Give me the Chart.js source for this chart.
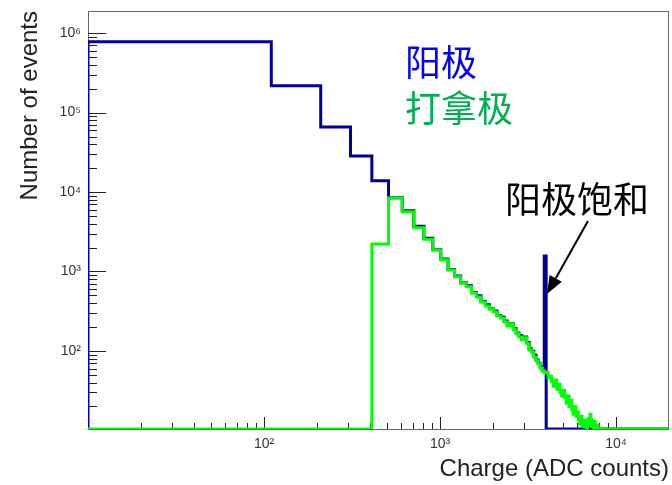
<!DOCTYPE html>
<html>
<head>
<meta charset="utf-8">
<script src="https://cdn.jsdelivr.net/npm/chart.js@4.4.0/dist/chart.umd.min.js"></script>
<style>
  html, body { margin: 0; padding: 0; background: #fff; }
  #wrap { width: 672px; height: 485px; }
</style>
</head>
<body>
<div id="wrap"><canvas id="chargeChart"></canvas></div>
<script>
// left edge of each 100-ADC bin
const binEdges = [
    10, 110, 210, 310, 410, 510, 610, 710, 810, 910,
    1010, 1110, 1210, 1310, 1410, 1510, 1610, 1710, 1810, 1910,
    2010, 2110, 2210, 2310, 2410, 2510, 2610, 2710, 2810, 2910,
    3010, 3110, 3210, 3310, 3410, 3510, 3610, 3710, 3810, 3910,
    4010, 4110, 4210, 4310, 4410, 4510, 4610, 4710, 4810, 4910,
    5010, 5110, 5210, 5310, 5410, 5510, 5610, 5710, 5810, 5910,
    6010, 6110, 6210, 6310, 6410, 6510, 6610, 6710, 6810, 6910,
    7010, 7110, 7210, 7310, 7410, 7510, 7610, 7710, 7810, 7910,
    8010
];

// 阳极 (anode)
const anodeCounts = [
    780000, 217000, 66000, 28400, 13900, 8500, 5800, 3700, 2620, 1880,
    1440, 1060, 880, 720, 660, 545, 495, 420, 380, 340,
    318, 280, 268, 238, 212, 222, 190, 168, 156, 140,
    150, 128, 106, 99, 88, 77, 70, 63, 58, 1570,
    0, 0, 0, 0, 0, 0, 0, 0, 0, 0,
    0, 0, 0, 0, 0, 0, 0, 0, 0, 0,
    0, 0, 0, 0, 0, 0, 0, 0, 0, 0,
    0, 0, 0, 0, 0, 0, 0, 0, 0, 0,
    0
];

// 打拿极 (dynode)
const dynodeCounts = [
    0, 0, 0, 0, 2220, 8400, 5650, 3560, 2540, 1860,
    1400, 1045, 855, 715, 640, 535, 478, 413, 368, 337,
    309, 276, 260, 232, 206, 219, 184, 164, 150, 138,
    146, 123, 103, 97, 84, 75, 69, 61, 56, 53,
    54, 46, 48, 41, 36, 43, 33, 38, 30, 27,
    32, 26, 22, 27, 20, 24, 18, 16, 20, 15,
    17, 13.5, 12, 15, 11.5, 13.5, 11, 13, 10.8, 14,
    12, 16, 13.5, 11.5, 0, 13, 11, 0, 11.5, 0,
    0
];

const xTickValues = [
    20, 30, 40, 50, 60, 70, 80, 90,
    100, 200, 300, 400, 500, 600, 700, 800, 900,
    1000, 2000, 3000, 4000, 5000, 6000, 7000, 8000, 9000,
    10000
];
const yTickValues = [
    20, 30, 40, 50, 60, 70, 80, 90,
    100, 200, 300, 400, 500, 600, 700, 800, 900,
    1000, 2000, 3000, 4000, 5000, 6000, 7000, 8000, 9000,
    10000, 20000, 30000, 40000, 50000, 60000, 70000, 80000, 90000,
    100000, 200000, 300000, 400000, 500000, 600000, 700000, 800000, 900000,
    1000000
];

const X_MIN = 10, X_MAX = 20000;
const Y_MIN = 10.4, Y_MAX = 1.9e6;
const arrowTip = [4050, 520];

const SUP = { 1: '¹', 2: '²', 3: '³', 4: '⁴', 5: '⁵', 6: '⁶' };

function isDecade(v) {
    const e = Math.log10(v);
    return Math.abs(e - Math.round(e)) < 1e-9;
}

function decadeLabel(v) {
    if (!isDecade(v)) return '';
    return '10' + SUP[Math.round(Math.log10(v))];
}

// histogram outline: empty bins sit on the bottom of the frame
function histPoints(counts) {
    const pts = [{ x: binEdges[0], y: Y_MIN }];
    counts.forEach((c, i) => pts.push({ x: binEdges[i], y: c > 0 ? c : Y_MIN }));
    pts.push({ x: X_MAX, y: Y_MIN });
    return pts;
}

// ROOT-like frame and inward tick marks
const framePlugin = {
    id: 'frameTicks',
    beforeDatasetsDraw(chart) {
        const { ctx, chartArea: a, scales: { x, y } } = chart;
        ctx.save();
        ctx.strokeStyle = '#666';
        ctx.lineWidth = 1;
        ctx.strokeRect(a.left + 0.5, a.top + 0.5, a.right - a.left - 1, a.bottom - a.top);
        ctx.strokeStyle = '#222';
        ctx.beginPath();
        xTickValues.forEach(v => {
            const px = Math.round(x.getPixelForValue(v)) + 0.5;
            const len = isDecade(v) ? 12 : 6;
            ctx.moveTo(px, a.bottom);
            ctx.lineTo(px, a.bottom - len);
        });
        yTickValues.forEach(v => {
            const py = Math.round(y.getPixelForValue(v)) + 0.5;
            const len = isDecade(v) ? 18 : 9;
            ctx.moveTo(a.left, py);
            ctx.lineTo(a.left + len, py);
        });
        ctx.stroke();
        ctx.restore();
    }
};

const notePlugin = {
    id: 'notes',
    afterDatasetsDraw(chart) {
        const { ctx, scales: { x, y } } = chart;
        ctx.save();
        ctx.font = '36px "Noto Sans CJK SC"';
        ctx.textBaseline = 'middle';
        ctx.textAlign = 'left';
        ctx.fillStyle = '#0000ff';
        ctx.fillText('阳极', 405, 62);
        ctx.fillStyle = '#00b050';
        ctx.fillText('打拿极', 405, 108);
        ctx.fillStyle = '#000';
        ctx.fillText('阳极饱和', 505, 199);

        // arrow to the saturated bin
        const tx = x.getPixelForValue(arrowTip[0]);
        const ty = y.getPixelForValue(arrowTip[1]);
        const sx = 588, sy = 221;
        const dx = tx - sx, dy = ty - sy;
        const d = Math.hypot(dx, dy);
        const ux = dx / d, uy = dy / d;
        const hl = 18, hw = 7;
        const bx = tx - ux * hl, by = ty - uy * hl;
        ctx.strokeStyle = '#000';
        ctx.lineWidth = 2;
        ctx.beginPath();
        ctx.moveTo(sx, sy);
        ctx.lineTo(bx, by);
        ctx.stroke();
        ctx.beginPath();
        ctx.moveTo(tx, ty);
        ctx.lineTo(bx - uy * hw, by + ux * hw);
        ctx.lineTo(bx + uy * hw, by - ux * hw);
        ctx.closePath();
        ctx.fill();
        ctx.restore();
    }
};

const ctx = document.getElementById('chargeChart');

new Chart(ctx, {
    type: 'line',
    data: {
        datasets: [
            {
                label: '阳极',
                data: histPoints(anodeCounts),
                borderColor: '#000099',
                borderWidth: 3,
                stepped: true,
                pointRadius: 0,
                fill: false,
                order: 2
            },
            {
                label: '打拿极',
                data: histPoints(dynodeCounts),
                borderColor: '#00ff00',
                borderWidth: 3,
                stepped: true,
                pointRadius: 0,
                fill: false,
                order: 1
            }
        ]
    },
    options: {
        responsive: true,
        maintainAspectRatio: false,
        animation: false,
        layout: { padding: { top: 11, right: 3, left: 0, bottom: 0 } },
        plugins: {
            legend: { display: false },
            tooltip: { enabled: false }
        },
        scales: {
            x: {
                type: 'logarithmic',
                min: X_MIN,
                max: X_MAX,
                afterBuildTicks: axis => {
                    axis.ticks = xTickValues.map(v => ({ value: v }));
                },
                afterFit: scale => {
                    scale.height = 56;
                    scale.paddingLeft = 0;
                    scale.paddingRight = 0;
                },
                grid: { display: false, drawTicks: false },
                border: { display: false },
                ticks: {
                    autoSkip: false,
                    maxRotation: 0,
                    padding: 7,
                    color: '#333',
                    font: { family: '"Liberation Sans", Arial, sans-serif', size: 14 },
                    callback: value => decadeLabel(value)
                },
                title: {
                    display: true,
                    text: 'Charge (ADC counts)',
                    align: 'end',
                    color: '#222',
                    padding: { top: 0, bottom: 1 },
                    font: { family: '"Liberation Sans", Arial, sans-serif', size: 24 }
                }
            },
            y: {
                type: 'logarithmic',
                min: Y_MIN,
                max: Y_MAX,
                afterBuildTicks: axis => {
                    axis.ticks = yTickValues.map(v => ({ value: v }));
                },
                afterFit: scale => {
                    scale.width = 88;
                    scale.paddingTop = 0;
                    scale.paddingBottom = 0;
                },
                grid: { display: false, drawTicks: false },
                border: { display: false },
                ticks: {
                    autoSkip: false,
                    padding: 7,
                    color: '#333',
                    font: { family: '"Liberation Sans", Arial, sans-serif', size: 14 },
                    callback: value => decadeLabel(value)
                },
                title: {
                    display: true,
                    text: 'Number of events',
                    align: 'end',
                    color: '#222',
                    padding: { top: 16, bottom: 0 },
                    font: { family: '"Liberation Sans", Arial, sans-serif', size: 24 }
                }
            }
        }
    },
    plugins: [framePlugin, notePlugin]
});
</script>
</body>
</html>
